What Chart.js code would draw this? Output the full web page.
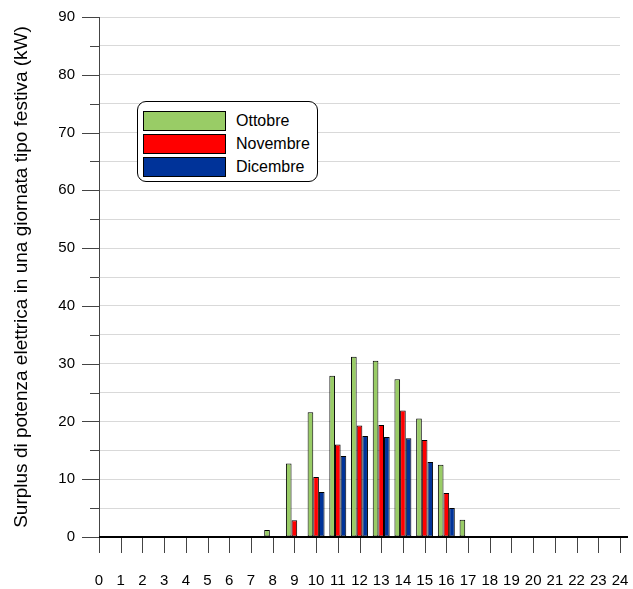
<!DOCTYPE html>
<html>
<head>
<meta charset="utf-8">
<script src="https://cdn.jsdelivr.net/npm/chart.js@4.4.1/dist/chart.umd.min.js"></script>
<style>
  body { margin: 0; background: #fff; }
  #wrap { position: relative; width: 633px; height: 589px; }
  #legend {
    position: absolute; left: 137px; top: 101px; width: 179px; height: 79px;
    border: 1px solid #000; border-radius: 9px; background: #fff;
    font-family: "Liberation Sans", Arial, sans-serif; font-size: 16px; color: #000;
  }
  .item { position: absolute; left: 5px; height: 19px; }
  .sw { position: absolute; left: 0; top: 0; width: 81px; height: 18px; border: 1px solid #000; }
  .lb { position: absolute; left: 93px; top: 0px; white-space: nowrap; line-height: 19px; }
</style>
</head>
<body>
<div id="wrap">
  <canvas id="mycanvas" width="633" height="589"></canvas>
  <div id="legend"></div>
</div>
<script>
// hours of the day
var hours = ['0','1','2','3','4','5','6','7','8','9','10','11','12','13','14','15','16','17','18','19','20','21','22','23','24'];
var seriesNames = ['Ottobre', 'Novembre', 'Dicembre'];
var seriesColors = ['#99cc66', '#ff0000', '#003399'];

var ottobre  = [0,0,0,0,0,0,0,0,1.2,12.7,21.6,27.9,31.2,30.5,27.3,20.5,12.5,3.0,0,0,0,0,0,0,0];
var novembre = [0,0,0,0,0,0,0,0,0,2.9,10.4,16.0,19.3,19.4,21.9,16.8,7.6,0,0,0,0,0,0,0,0];
var dicembre = [0,0,0,0,0,0,0,0,0,0,7.8,14.0,17.5,17.3,17.1,13.0,5.0,0,0,0,0,0,0,0,0];

var yTitle = 'Surplus di potenza elettrica in una giornata tipo festiva (kW)';
var font = '"Liberation Sans", Arial, sans-serif';

// tick marks outside the axes
var tickMarks = {
    id: 'tickMarks',
    afterDraw: function (chart) {
        var ctx = chart.ctx;
        var x = chart.scales.x, y = chart.scales.y;
        var area = chart.chartArea;
        ctx.save();
        ctx.strokeStyle = '#444';
        ctx.lineWidth = 1;
        ctx.beginPath();
        for (var i = 0; i < hours.length; i++) {
            var px = Math.round(x.getPixelForValue(i)) + 0.5;
            ctx.moveTo(px, area.bottom);
            ctx.lineTo(px, area.bottom + 16);
        }
        for (var v = 0; v <= 90; v += 5) {
            var py = Math.round(y.getPixelForValue(v)) + 0.5;
            ctx.moveTo(area.left, py);
            ctx.lineTo(area.left - (v % 10 === 0 ? 17 : 9), py);
        }
        ctx.stroke();
        ctx.beginPath();
        ctx.strokeStyle = '#000';
        ctx.lineWidth = 2;
        ctx.moveTo(area.left, area.bottom);
        ctx.lineTo(area.right + 8, area.bottom);
        ctx.stroke();
        ctx.restore();
    }
};

var datas = [ottobre, novembre, dicembre];
var datasets = [];
for (var s = 0; s < seriesNames.length; s++) {
    datasets.push({
        label: seriesNames[s],
        data: datas[s],
        backgroundColor: seriesColors[s],
        borderColor: '#000',
        borderWidth: 1,
        borderSkipped: false,
        categoryPercentage: 0.78,
        barPercentage: 1.0
    });
}

var ctx = document.getElementById('mycanvas');
var myBarChart = new Chart(ctx, {
    type: 'bar',
    data: { labels: hours, datasets: datasets },
    plugins: [tickMarks],
    options: {
        responsive: false,
        animation: false,
        layout: { padding: { top: 17, right: 13, left: 0, bottom: 0 } },
        plugins: { legend: { display: false }, tooltip: { enabled: false } },
        scales: {
            x: {
                offset: false,
                grid: { display: false, offset: false, drawTicks: false },
                border: { display: false },
                ticks: { color: '#000', font: { family: font, size: 15 }, padding: 35, maxRotation: 0, autoSkip: false },
                afterFit: function (scale) {
                    scale.height = 52;
                    scale.paddingLeft = 0;
                    scale.paddingRight = 0;
                }
            },
            y: {
                min: 0, max: 90,
                grid: { color: '#d9d9d9', drawTicks: false },
                border: { color: '#444', width: 1 },
                ticks: {
                    stepSize: 5, color: '#000', padding: 24,
                    font: { family: font, size: 15 },
                    callback: function (v) { return v % 10 === 0 ? v : ''; }
                },
                title: {
                    display: true, text: yTitle, color: '#000',
                    font: { family: font, size: 19 },
                    padding: { top: 10, bottom: 0 }
                },
                afterFit: function (scale) {
                    scale.width = 99;
                    scale.paddingTop = 0;
                    scale.paddingBottom = 0;
                }
            }
        }
    }
});

// legend box
var leg = document.getElementById('legend');
for (var k = 0; k < seriesNames.length; k++) {
    var it = document.createElement('div');
    it.className = 'item';
    it.style.top = (9 + k * 23) + 'px';
    it.innerHTML = '<div class="sw" style="background:' + seriesColors[k] + '"></div><div class="lb">' + seriesNames[k] + '</div>';
    leg.appendChild(it);
}
</script>
</body>
</html>
